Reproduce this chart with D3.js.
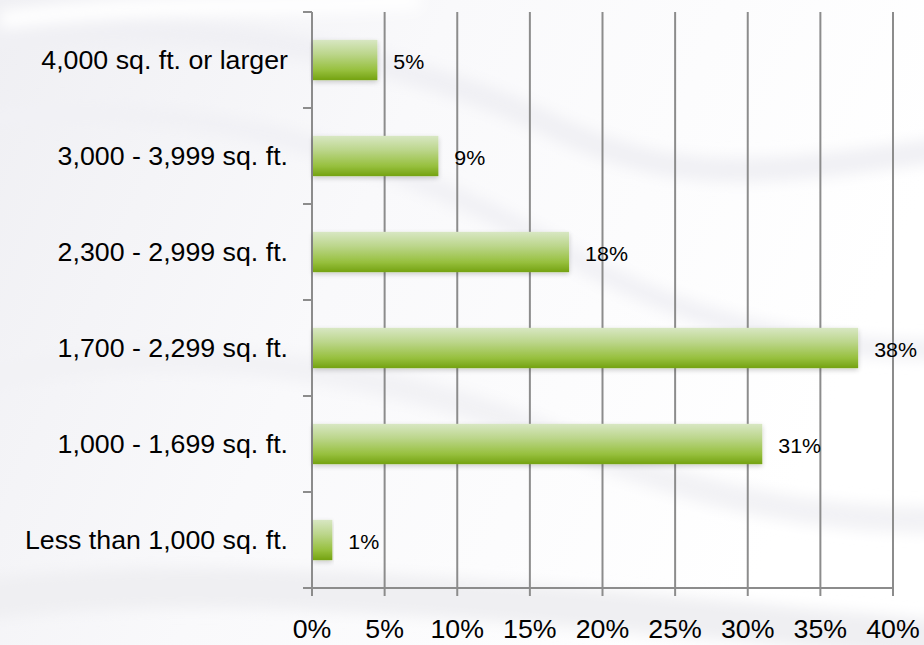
<!DOCTYPE html>
<html>
<head>
<meta charset="utf-8">
<script src="https://cdn.jsdelivr.net/npm/d3@7"></script>
<style>
  html, body { margin: 0; padding: 0; background: #ffffff; }
  svg { display: block; }
  text { font-family: "Liberation Sans", Arial, sans-serif; fill: #000; }
</style>
</head>
<body>
<svg id="chart" width="924" height="645"></svg>
<script>
const categories = [
  "4,000 sq. ft. or larger",
  "3,000 - 3,999 sq. ft.",
  "2,300 - 2,999 sq. ft.",
  "1,700 - 2,299 sq. ft.",
  "1,000 - 1,699 sq. ft.",
  "Less than 1,000 sq. ft."
];
const values = [4.5, 8.7, 17.7, 37.6, 31.0, 1.4];
const valueLabels = ["5%", "9%", "18%", "38%", "31%", "1%"];
const xTicks = [0, 5, 10, 15, 20, 25, 30, 35, 40];
const xTickLabels = ["0%", "5%", "10%", "15%", "20%", "25%", "30%", "35%", "40%"];

const svg = d3.select("#chart");
const W = 924, H = 645;
const SX = 1.07; // horizontal text stretch seen in the reference

const defs = svg.append("defs");
const bg = defs.append("linearGradient").attr("id", "bgGrad")
  .attr("x1", 0).attr("y1", 0).attr("x2", 1).attr("y2", 0.3);
bg.append("stop").attr("offset", "0%").attr("stop-color", "#efeff3");
bg.append("stop").attr("offset", "45%").attr("stop-color", "#f9f9fb");
bg.append("stop").attr("offset", "100%").attr("stop-color", "#ffffff");

const barGrad = defs.append("linearGradient").attr("id", "barGrad")
  .attr("x1", 0).attr("y1", 0).attr("x2", 0).attr("y2", 1);
barGrad.append("stop").attr("offset", "0%").attr("stop-color", "#d8e7c3");
barGrad.append("stop").attr("offset", "35%").attr("stop-color", "#bcd68c");
barGrad.append("stop").attr("offset", "75%").attr("stop-color", "#97c03e");
barGrad.append("stop").attr("offset", "100%").attr("stop-color", "#74a210");

const blur = defs.append("filter").attr("id", "blur")
  .attr("x", "-20%").attr("y", "-50%").attr("width", "140%").attr("height", "200%");
blur.append("feGaussianBlur").attr("stdDeviation", 7);

const shadow = defs.append("filter").attr("id", "shadow")
  .attr("x", "-5%").attr("y", "-30%").attr("width", "110%").attr("height", "170%");
shadow.append("feGaussianBlur").attr("in", "SourceAlpha").attr("stdDeviation", 2.5).attr("result", "b");
shadow.append("feOffset").attr("in", "b").attr("dx", 0).attr("dy", 2).attr("result", "o");
shadow.append("feComponentTransfer").attr("in", "o").attr("result", "s")
  .append("feFuncA").attr("type", "linear").attr("slope", 0.2);
const mg = shadow.append("feMerge");
mg.append("feMergeNode").attr("in", "s");
mg.append("feMergeNode").attr("in", "SourceGraphic");

// background
svg.append("rect").attr("width", W).attr("height", H).attr("fill", "url(#bgGrad)");
const sw = svg.append("g").attr("filter", "url(#blur)").attr("fill", "none");
sw.append("path").attr("d", "M -20 40 C 200 10, 420 60, 560 130 C 680 185, 760 175, 940 150")
  .attr("stroke", "#f0f0f4").attr("stroke-width", 24);
sw.append("path").attr("d", "M -20 120 C 220 90, 420 170, 560 250 C 680 320, 800 350, 940 350")
  .attr("stroke", "#f1f1f5").attr("stroke-width", 20);
sw.append("path").attr("d", "M -20 380 C 200 330, 420 380, 560 440 C 700 500, 820 520, 940 520")
  .attr("stroke", "#f2f2f5").attr("stroke-width", 26);
sw.append("path").attr("d", "M -20 600 C 200 570, 500 600, 940 640")
  .attr("stroke", "#efeff2").attr("stroke-width", 40);
sw.append("path").attr("d", "M 0 20 C 150 0, 300 10, 420 0")
  .attr("stroke", "#ffffff").attr("stroke-width", 18);

// scales
const x = d3.scaleLinear().domain([0, 40]).range([312, 893]);
const y = d3.scaleBand().domain(categories).range([12, 588])
  .paddingInner(0.58).paddingOuter(0.29);
const step = y.step();
const y0 = y.range()[0], y1 = y.range()[1];

const gridColor = "#8c8c8c";

// gridlines
svg.append("g").selectAll("line").data(xTicks.filter(d => d > 0)).join("line")
  .attr("x1", d => x(d)).attr("x2", d => x(d))
  .attr("y1", y0).attr("y2", y1 + 8)
  .attr("stroke", gridColor).attr("stroke-width", 2);

// y axis line + ticks
svg.append("line").attr("x1", x(0)).attr("x2", x(0)).attr("y1", y0).attr("y2", y1 + 8)
  .attr("stroke", gridColor).attr("stroke-width", 2);
svg.append("g").selectAll("line").data(d3.range(categories.length + 1)).join("line")
  .attr("x1", x(0) - 9).attr("x2", x(0))
  .attr("y1", i => y0 + i * step).attr("y2", i => y0 + i * step)
  .attr("stroke", gridColor).attr("stroke-width", 2);

// x axis line
svg.append("line").attr("x1", x(0) - 9).attr("x2", x(40))
  .attr("y1", y1).attr("y2", y1)
  .attr("stroke", gridColor).attr("stroke-width", 2);

// bars
svg.append("g").selectAll("rect").data(categories).join("rect")
  .attr("x", x(0) + 1)
  .attr("y", d => y(d))
  .attr("width", (d, i) => x(values[i]) - x(0) - 1)
  .attr("height", y.bandwidth())
  .attr("fill", "url(#barGrad)")
  .attr("filter", "url(#shadow)");

// value labels
svg.append("g").selectAll("text").data(categories).join("text")
  .attr("transform", (d, i) => `translate(${x(values[i]) + 16},${y(d) + y.bandwidth() / 2 + 9}) scale(${SX},1)`)
  .attr("font-size", 20)
  .text((d, i) => valueLabels[i]);

// category labels
svg.append("g").selectAll("text").data(categories).join("text")
  .attr("transform", d => `translate(${x(0) - 24},${y(d) + y.bandwidth() / 2 + 9}) scale(${SX},1)`)
  .attr("text-anchor", "end")
  .attr("font-size", 25)
  .text(d => d);

// x tick labels
svg.append("g").selectAll("text").data(xTicks).join("text")
  .attr("transform", d => `translate(${x(d)},638) scale(${SX},1)`)
  .attr("text-anchor", "middle")
  .attr("font-size", 25)
  .text((d, i) => xTickLabels[i]);
</script>
</body>
</html>
